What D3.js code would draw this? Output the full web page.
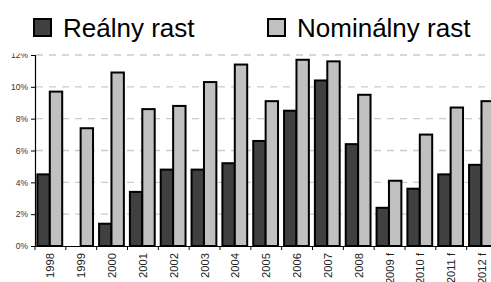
<!DOCTYPE html>
<html>
<head>
<meta charset="utf-8">
<script src="https://cdn.jsdelivr.net/npm/d3@7"></script>
<style>
  body { margin: 0; background: #fff; }
  svg { display: block; font-family: "Liberation Sans", Arial, sans-serif; }
</style>
</head>
<body>
<div id="chart"></div>
<script>
// data
const years = ['1998', '1999', '2000', '2001', '2002', '2003', '2004', '2005',
  '2006', '2007', '2008', '2009 f', '2010 f', '2011 f', '2012 f'];
const realny = [4.5, 0, 1.4, 3.4, 4.8, 4.8, 5.2, 6.6, 8.5, 10.4, 6.4, 2.4, 3.6, 4.5, 5.1];
const nominalny = [9.7, 7.4, 10.9, 8.6, 8.8, 10.3, 11.4, 9.1, 11.7, 11.6, 9.5, 4.1, 7.0, 8.7, 9.1];
const yTicks = [0, 2, 4, 6, 8, 10, 12];
const seriesNames = ['Reálny rast', 'Nominálny rast'];
const seriesColors = ['#404040', '#c0c0c0'];

const width = 491, height = 282;
const svg = d3.select('#chart').append('svg')
  .attr('width', width)
  .attr('height', height);

const x = d3.scaleBand().domain(years).range([35, 497.5]).padding(0);
const y = d3.scaleLinear().domain([0, 12]).range([246, 55]);

// gridlines
svg.append('g').selectAll('line')
  .data(yTicks.filter(d => d > 0))
  .enter().append('line')
  .attr('x1', 36).attr('x2', width)
  .attr('y1', d => y(d)).attr('y2', d => y(d))
  .attr('stroke', '#cccccc')
  .attr('stroke-width', 1.3)
  .attr('stroke-dasharray', '7,6');

// bars
const barW = 12.4;
const groups = svg.append('g').selectAll('g')
  .data(years)
  .enter().append('g')
  .attr('transform', d => `translate(${x(d)},0)`);

groups.append('rect')
  .attr('x', 2.4)
  .attr('y', (d, i) => y(realny[i]))
  .attr('width', barW)
  .attr('height', (d, i) => y(0) - y(realny[i]))
  .attr('fill', seriesColors[0])
  .attr('stroke', '#000')
  .attr('stroke-width', 2);

groups.append('rect')
  .attr('x', 2.4 + barW)
  .attr('y', (d, i) => y(nominalny[i]))
  .attr('width', barW)
  .attr('height', (d, i) => y(0) - y(nominalny[i]))
  .attr('fill', seriesColors[1])
  .attr('stroke', '#000')
  .attr('stroke-width', 2);

// y axis
const yAxis = svg.append('g')
  .attr('transform', 'translate(35,0)')
  .call(d3.axisLeft(y).tickValues(yTicks).tickFormat(d => d + '%').tickSize(4).tickPadding(3));
yAxis.select('.domain').attr('stroke', '#000').attr('stroke-width', 1.2);
yAxis.selectAll('.tick line').attr('stroke', '#000');
yAxis.selectAll('text').attr('font-size', 8.5).attr('fill', '#333')
  .attr('font-family', '"Liberation Sans", Arial, sans-serif');

// x axis
const xAxis = svg.append('g')
  .attr('transform', `translate(0,${y(0)})`)
  .call(d3.axisBottom(x).tickSize(0).tickSizeOuter(0));
xAxis.select('.domain').attr('stroke', '#000').attr('stroke-width', 1.2);
xAxis.selectAll('.tick text')
  .attr('font-size', 11.2)
  .attr('fill', '#222')
  .attr('font-family', '"Liberation Sans", Arial, sans-serif')
  .attr('transform', 'rotate(-90)')
  .attr('text-anchor', 'end')
  .attr('x', -7)
  .attr('y', 0)
  .attr('dy', '0.35em');

// separators between categories
svg.append('g').selectAll('line')
  .data(years)
  .enter().append('line')
  .attr('x1', d => x(d)).attr('x2', d => x(d))
  .attr('y1', y(0)).attr('y2', y(0) + 4)
  .attr('stroke', '#000');

// legend area covers top of the 12% label
svg.append('rect')
  .attr('x', 0).attr('y', 0)
  .attr('width', width).attr('height', 53.5)
  .attr('fill', '#fff');

const legendX = [34, 268];
const legend = svg.append('g').selectAll('g')
  .data(seriesNames)
  .enter().append('g')
  .attr('transform', (d, i) => `translate(${legendX[i]},19)`);
legend.append('rect')
  .attr('width', 17).attr('height', 17)
  .attr('fill', (d, i) => seriesColors[i])
  .attr('stroke', '#000')
  .attr('stroke-width', 2);
legend.append('text')
  .attr('x', 29).attr('y', 18)
  .attr('font-size', 26)
  .attr('fill', '#000')
  .text(d => d);
</script>
</body>
</html>
